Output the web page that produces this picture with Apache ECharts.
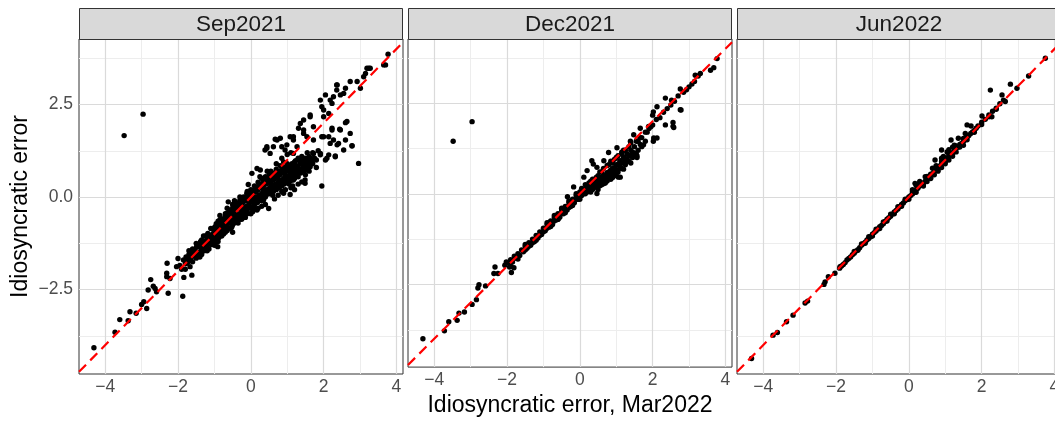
<!DOCTYPE html>
<html>
<head>
<meta charset="utf-8">
<script src="https://cdn.jsdelivr.net/npm/echarts@6/dist/echarts.min.js"></script>
<style>
  html, body { margin: 0; padding: 0; overflow: hidden; background: #fff; width: 1055px; height: 422px; }
  #chart { width: 1066px; height: 422px; }
</style>
</head>
<body>
<div id="chart"></div>
<script>
// Facet labels (one panel per vintage)
const PANELS = ['Sep2021', 'Dec2021', 'Jun2022'];

// Axis ticks (major and minor) and the visible axis ranges
const X_TICKS = [-4, -2, 0, 2, 4];
const X_MINOR = [-3, -1, 1, 3];
const Y_TICKS = [-2.5, 0, 2.5];
const Y_MINOR = [-3.75, -1.25, 1.25, 3.75];
const X_RANGE = [-4.72, 4.18];
const Y_RANGE = [-4.78, 4.27];

// Idiosyncratic error: [Mar2022 value, vintage value]
const SEP2021 = [
  [-3.48, 1.66], [-2.96, 2.24],
  [-4.31, -4.07], [-3.73, -3.65], [-3.60, -3.31], [-3.37, -3.34], [-3.32, -3.10], [-3.15, -3.14],
  [-3.00, -2.90], [-2.94, -2.83], [-2.86, -3.01], [-2.82, -2.51], [-2.75, -2.23], [-2.68, -2.41],
  [-2.63, -2.47], [-2.59, -2.56], [-2.31, -2.06], [-2.30, -1.79], [-2.31, -2.15], [-2.27, -2.60],
  [-2.22, -2.20], [-2.04, -1.88], [-2.00, -1.66], [-1.87, -2.68], [-1.84, -2.17], [-1.76, -1.79],
  [-1.72, -1.66], [-1.62, -2.11], [-1.67, -1.88], [-1.58, -1.52], [-1.49, -1.34], [-1.40, -1.52],
  [-1.35, -1.16], [-1.26, -1.30], [-1.17, -1.39], [-1.12, -1.07], [-1.03, -0.98], [-0.91, -1.34],
  [-0.98, -0.80], [-0.85, -0.62], [-0.80, -0.89], [-0.66, -0.44], [-0.62, -0.13], [-0.48, -0.26],
  [-0.43, -0.53], [-0.29, -0.08], [-0.20, -0.44], [-0.07, 0.34], [-0.11, 0.10], [0.07, 0.01],
  [0.17, -0.35], [0.35, -0.08], [0.49, -0.31], [0.44, 0.19], [0.53, 0.37], [0.62, 0.46],
  [0.72, 0.28], [0.81, 0.64], [0.90, 0.73], [0.94, 0.41], [1.08, 0.07], [1.17, 0.46],
  [1.27, 0.82], [1.40, 0.41], [1.49, 0.37], [1.45, 1.00], [1.59, 0.82], [1.68, 0.95],
  [1.95, 0.30], [1.72, 1.18], [1.91, 1.14], [2.05, 1.00], [2.14, 1.14], [2.32, 1.11],
  [2.55, 1.27], [2.78, 1.39], [2.96, 0.91], [2.73, 1.72], [2.60, 2.01], [2.44, 1.83],
  [2.23, 1.86], [2.18, 1.45], [1.95, 1.63], [2.14, 1.63], [2.41, 1.45], [2.27, 1.54],
  [2.00, 2.17], [2.14, 2.26], [1.91, 2.62], [2.05, 2.76], [2.18, 2.62], [2.27, 2.71],
  [2.36, 2.89], [2.46, 2.76], [2.55, 2.80], [2.36, 3.03], [2.60, 2.94], [2.73, 3.12],
  [2.92, 3.12], [3.01, 2.94], [3.10, 3.25], [3.19, 3.48], [3.28, 3.48], [3.65, 3.57],
  [3.77, 3.86], [1.95, 2.44], [1.63, 2.17], [1.45, 2.08], [1.31, 1.86], [1.45, 1.72],
  [1.54, 1.63], [1.72, 1.54], [1.08, 1.63], [1.17, 1.54], [1.27, 1.36], [0.99, 1.41],
  [0.85, 1.36], [0.72, 1.54], [0.81, 1.59], [0.62, 1.36], [0.44, 1.36], [0.39, 1.27],
  [0.53, 1.18], [0.17, 0.77], [0.26, 0.73], [0.03, 0.64],
  [0.44, 1.32], [0.67, 1.56], [0.94, 1.27], [1.17, 1.63], [1.36, 1.99], [1.45, 1.81],
  [1.63, 2.22], [1.72, 1.90], [2.00, 2.35], [2.23, 2.53], [2.37, 3.03], [3.15, 3.34],
  [3.24, 3.48], [3.70, 3.57], [2.64, 2.04], [2.46, 1.81], [2.78, 1.38], [2.60, 1.54],
  [2.37, 1.41], [2.00, 1.63], [2.23, 1.81], [2.32, 1.09], [2.09, 1.05], [1.91, 1.18],
  [1.49, 0.46], [1.63, 0.82], [1.36, 1.00], [1.17, 1.18],
  [-1.95, -1.85], [-1.90, -1.95], [-1.85, -1.70], [-1.80, -1.80], [-1.78, -1.62], [-1.72, -1.75],
  [-1.70, -1.55], [-1.65, -1.68], [-1.62, -1.50], [-1.60, -1.60], [-1.55, -1.42], [-1.52, -1.58],
  [-1.50, -1.48], [-1.45, -1.35], [-1.42, -1.50], [-1.40, -1.30], [-1.35, -1.42], [-1.32, -1.25],
  [-1.30, -1.38], [-1.25, -1.20], [-1.22, -1.32], [-1.20, -1.10], [-1.15, -1.25], [-1.12, -1.05],
  [-1.10, -1.18], [-1.05, -1.00], [-1.02, -1.12], [-1.00, -0.92], [-0.98, -1.05], [-0.95, -0.85],
  [-0.92, -0.98], [-0.90, -0.78], [-0.88, -1.10], [-0.85, -0.90], [-0.82, -0.72], [-0.80, -0.85],
  [-0.78, -0.98], [-0.75, -0.68], [-0.72, -0.80], [-0.70, -0.60], [-0.68, -0.75], [-0.65, -0.90],
  [-0.62, -0.55], [-0.60, -0.68], [-0.58, -0.48], [-0.55, -0.62], [-0.52, -0.80], [-0.50, -0.42],
  [-0.48, -0.55], [-0.45, -0.70], [-0.42, -0.35], [-0.40, -0.50], [-0.38, -0.62], [-0.35, -0.30],
  [-0.32, -0.45], [-0.30, -0.20], [-0.28, -0.55], [-0.25, -0.35], [-0.22, -0.15], [-0.20, -0.28],
  [-0.18, -0.48], [-0.15, -0.10], [-0.12, -0.25], [-0.10, -0.38], [-0.08, -0.05], [-0.05, -0.18],
  [-0.02, 0.05], [0.00, -0.12], [0.02, -0.30], [0.05, 0.08], [0.08, -0.05], [0.10, -0.20],
  [0.12, 0.15], [0.15, 0.00], [0.18, -0.15], [0.20, 0.20], [0.22, 0.05], [0.25, -0.08],
  [0.28, 0.25], [0.30, 0.10], [0.32, -0.02], [0.35, 0.30], [0.38, 0.15], [0.40, 0.00],
  [0.42, 0.35], [0.45, 0.20], [0.48, 0.08], [0.50, 0.40], [0.52, 0.25], [0.55, 0.12],
  [0.58, 0.45], [0.60, 0.30], [0.62, 0.15], [0.65, 0.50], [0.68, 0.35], [0.70, 0.20],
  [0.72, 0.55], [0.75, 0.40], [0.78, 0.25], [0.80, 0.60], [0.82, 0.45], [0.85, 0.30],
  [0.88, 0.65], [0.90, 0.50], [0.92, 0.35], [0.95, 0.70], [0.98, 0.55], [1.00, 0.40],
  [1.05, 0.75], [1.08, 0.60], [1.10, 0.45], [1.15, 0.80], [1.18, 0.65], [1.20, 0.50],
  [1.25, 0.85], [1.28, 0.70], [1.30, 0.55], [1.35, 0.90], [1.40, 0.75], [1.45, 0.95],
  [1.50, 0.80], [1.55, 1.00], [1.60, 0.85], [1.65, 1.05], [1.70, 0.90], [1.80, 1.00],
  [1.00, 0.70], [1.00, 0.90], [1.05, 0.35], [1.10, 0.85], [1.20, 0.95], [1.25, 0.60],
  [1.30, 1.05], [1.35, 0.70], [1.40, 1.10], [1.50, 0.60], [1.55, 1.20], [1.60, 0.70],
  [1.70, 1.20], [1.75, 1.05], [1.80, 0.80], [1.85, 1.25], [0.90, 0.95], [0.80, 0.85],
  [0.70, 0.75], [0.60, 0.65], [0.50, 0.60], [0.95, 0.20], [0.85, 0.15], [0.75, 0.05],
  [0.60, 0.05], [1.15, 0.30], [1.30, 0.35], [0.20, 0.40], [0.10, 0.30], [-0.10, 0.15],
  [-0.30, 0.00], [-0.50, -0.20], [-0.70, -0.45], [-0.90, -0.65], [-1.10, -0.85], [-1.30, -1.05],
  [-1.50, -1.25], [-1.70, -1.45], [-0.95, -1.20], [-0.75, -1.00], [-0.55, -0.85], [-0.35, -0.70],
  [-0.15, -0.55], [0.05, -0.40], [0.30, -0.25], [1.20, 0.20],
  [-1.45, -1.55], [-1.38, -1.20], [-1.28, -1.45], [-1.18, -0.98], [-1.08, -1.28], [-0.98, -0.90],
  [-0.93, -1.15], [-0.87, -0.70], [-0.83, -1.00], [-0.77, -0.60], [-0.73, -0.92], [-0.67, -0.55],
  [-0.63, -0.82], [-0.57, -0.38], [-0.53, -0.72], [-0.47, -0.35], [-0.43, -0.62], [-0.37, -0.25],
  [-0.33, -0.52], [-0.27, -0.12], [-0.23, -0.42], [-0.17, -0.05], [-0.13, -0.32], [-0.07, 0.02],
  [-0.03, -0.25], [0.03, 0.12], [0.07, -0.15], [0.13, 0.22], [0.17, -0.05], [0.23, 0.30],
  [0.27, 0.00], [0.33, 0.38], [0.37, 0.05], [0.43, 0.45], [0.47, 0.12], [0.53, 0.52],
  [0.57, 0.20], [0.63, 0.58], [0.67, 0.25], [0.73, 0.65], [0.77, 0.32], [0.83, 0.72],
  [0.87, 0.38], [0.93, 0.80], [0.97, 0.45], [1.03, 0.85], [1.07, 0.50], [1.13, 0.90],
  [1.17, 0.55], [1.23, 0.98], [1.27, 0.62], [1.33, 1.00], [1.37, 0.65], [1.43, 0.85],
  [1.47, 0.70], [1.53, 0.90], [1.57, 0.75], [1.63, 0.95], [0.00, 0.20], [0.10, 0.00],
  [-0.20, -0.05], [-0.40, -0.15], [-0.60, -0.35], [-0.80, -0.60], [0.30, 0.50], [0.40, 0.55],
  [0.55, 0.70], [0.70, 0.90], [0.85, 1.05], [1.00, 1.15], [1.10, 1.20], [0.20, -0.30],
  [0.40, -0.20], [0.65, -0.05], [0.90, 0.10], [1.10, 0.25], [-1.00, -1.30], [-1.20, -1.45],
  [-1.40, -1.62], [-1.60, -1.75], [-1.80, -1.95], [-0.50, -0.95], [-0.25, -0.60], [0.00, -0.45],
  [-1.60, -1.40], [-1.50, -1.65], [-1.35, -1.55], [-1.25, -1.05], [-1.15, -1.40], [-1.05, -0.85],
  [-1.00, -1.20], [-0.95, -0.72], [-0.90, -1.20], [-0.85, -0.78], [-0.80, -1.05], [-0.70, -0.52],
  [-0.70, -0.95], [-0.60, -0.42], [-0.60, -0.85], [-0.50, -0.30], [-0.50, -0.75], [-0.40, -0.25],
  [-0.40, -0.65], [-0.30, -0.10], [-0.30, -0.60], [-0.20, 0.00], [-0.20, -0.50], [-0.10, 0.05],
  [-0.10, -0.45], [0.00, 0.10], [0.00, -0.30], [0.10, 0.18], [0.10, -0.30], [0.20, 0.28],
  [0.20, -0.10], [0.30, 0.35], [0.30, -0.10], [0.40, 0.45], [0.40, 0.10], [0.50, 0.50],
  [0.50, 0.15], [0.60, 0.55], [0.60, 0.20], [0.70, 0.62], [0.70, 0.30], [0.80, 0.70],
  [0.80, 0.35], [0.90, 0.78], [0.90, 0.40], [1.00, 0.82], [1.00, 0.50], [1.10, 0.62],
  [1.20, 0.72], [1.30, 0.80], [1.40, 0.90], [1.50, 1.05], [1.60, 1.10], [-0.65, -0.70],
  [-0.45, -0.45], [-0.25, -0.25], [-0.05, -0.05], [0.15, 0.15], [0.35, 0.20], [0.55, 0.35],
  [0.75, 0.50], [0.95, 0.60], [1.15, 0.70], [-0.85, -0.50], [-0.65, -0.30], [-0.45, -0.10],
  [0.25, 0.55], [0.45, 0.70]
];

const DEC2021 = [
  [-3.48, 1.45], [-2.96, 1.99],
  [-4.31, -4.00], [-3.72, -3.78], [-3.60, -3.53], [-3.37, -3.49], [-3.32, -3.29], [-3.17, -3.26],
  [-2.96, -3.05], [-2.84, -2.92], [-2.77, -2.51], [-2.80, -2.60], [-2.59, -2.54], [-2.33, -2.02],
  [-2.36, -2.20], [-2.25, -2.20], [-2.06, -1.97], [-2.02, -1.88], [-1.93, -2.02], [-1.88, -2.17],
  [-1.81, -2.04],
  [3.77, 3.73], [3.68, 3.48], [3.59, 3.41], [3.31, 3.32], [3.17, 3.27], [3.08, 3.03],
  [2.93, 2.87], [2.76, 2.89], [2.78, 2.31], [2.56, 1.97], [2.56, 1.86], [2.35, 1.90],
  [2.12, 1.54], [2.02, 1.45], [2.52, 2.58], [2.35, 2.64], [2.12, 2.40], [2.02, 2.26],
  [2.00, 2.17], [1.89, 1.86], [1.66, 1.81], [1.48, 1.63], [1.39, 1.45], [1.66, 1.36],
  [1.57, 1.00], [1.30, 1.09], [1.11, 0.91], [1.02, 1.27], [0.79, 1.14], [0.66, 0.91],
  [0.33, 0.91], [0.47, 0.73], [0.84, 0.64], [1.06, 0.46], [0.52, 0.28], [0.47, 0.01],
  [0.11, 0.46], [0.20, 0.64], [-0.17, 0.19], [-0.34, -0.08],
  [0.37, 0.82], [1.11, 0.46], [1.57, 1.05], [2.03, 1.54], [2.58, 1.83], [2.76, 2.32],
  [-1.95, -1.90], [-1.90, -1.82], [-1.85, -1.88], [-1.80, -1.72], [-1.75, -1.78], [-1.70, -1.65],
  [-1.65, -1.70], [-1.60, -1.55], [-1.55, -1.60], [-1.50, -1.45], [-1.45, -1.50], [-1.40, -1.35],
  [-1.35, -1.42], [-1.30, -1.25], [-1.25, -1.32], [-1.20, -1.15], [-1.15, -1.22], [-1.10, -1.05],
  [-1.05, -1.12], [-1.00, -0.95], [-0.95, -1.02], [-0.90, -0.85], [-0.85, -0.92], [-0.80, -0.75],
  [-0.75, -0.85], [-0.70, -0.65], [-0.65, -0.72], [-0.60, -0.55], [-0.55, -0.65], [-0.50, -0.45],
  [-0.45, -0.55], [-0.40, -0.35], [-0.35, -0.45], [-0.30, -0.25], [-0.25, -0.35], [-0.20, -0.15],
  [-0.15, -0.25], [-0.10, -0.05], [-0.05, -0.15], [0.00, 0.05], [0.05, -0.05], [0.10, 0.12],
  [0.15, 0.00], [0.20, 0.18], [0.25, 0.08], [0.30, 0.25], [0.35, 0.12], [0.40, 0.30],
  [0.45, 0.18], [0.50, 0.35], [0.55, 0.22], [0.60, 0.45], [0.65, 0.28], [0.70, 0.50],
  [0.75, 0.35], [0.80, 0.60], [0.85, 0.40], [0.90, 0.70], [0.95, 0.50], [1.00, 0.80],
  [1.05, 0.60], [1.10, 0.90], [1.15, 0.70], [1.20, 1.00], [1.25, 0.80], [1.30, 1.10],
  [1.35, 0.90], [1.40, 1.20], [1.45, 1.00], [1.50, 1.30], [1.55, 1.10], [1.60, 1.45],
  [1.70, 1.55], [1.75, 1.35], [1.80, 1.70], [1.90, 1.80], [2.00, 1.90], [2.10, 2.05],
  [2.20, 2.10], [2.30, 2.25], [2.40, 2.35], [2.50, 2.45], [2.60, 2.55], [2.70, 2.70],
  [2.85, 2.80], [3.00, 2.95], [3.15, 3.10], [3.25, 3.25],
  [0.60, 0.60], [0.70, 0.40], [0.80, 0.80], [0.90, 0.55], [1.00, 1.00], [1.10, 0.75],
  [1.20, 1.20], [1.30, 0.95], [1.40, 1.40], [0.50, 0.50], [0.40, 0.20], [0.30, 0.35],
  [0.20, 0.05], [-0.60, -0.70], [-1.20, -1.28], [-0.30, -0.38], [0.90, 0.85], [1.15, 1.10],
  [-1.00, -1.05], [-0.90, -0.95], [-0.80, -0.85], [-0.70, -0.75], [-0.60, -0.65], [-0.50, -0.55],
  [-0.40, -0.48], [-0.30, -0.35], [-0.20, -0.28], [-0.10, -0.15], [0.00, -0.08], [0.10, 0.00],
  [0.20, 0.08], [0.30, 0.12], [0.40, 0.20], [0.50, 0.25], [0.60, 0.35], [0.70, 0.42],
  [0.80, 0.50], [0.90, 0.58], [1.00, 0.65], [1.10, 0.72], [1.20, 0.85], [1.30, 0.90],
  [1.40, 1.05], [1.50, 1.12], [0.25, 0.30], [0.45, 0.45], [0.65, 0.70], [0.85, 0.90],
  [1.05, 1.05], [1.25, 1.20], [0.35, 0.40], [0.55, 0.60], [0.75, 0.78], [0.95, 0.95],
  [1.15, 1.15], [1.35, 1.30], [1.55, 1.45], [1.65, 1.55], [1.85, 1.70], [1.95, 1.85],
  [-1.50, -1.55], [-1.30, -1.35], [-1.10, -1.15], [-1.40, -1.45], [-0.85, -0.80], [-0.65, -0.60],
  [0.05, 0.15], [0.15, 0.25], [0.25, 0.18], [0.35, 0.28], [0.45, 0.32], [0.55, 0.45],
  [0.65, 0.52], [0.75, 0.58], [0.85, 0.65], [0.95, 0.72], [1.05, 0.80], [1.15, 0.85],
  [1.25, 0.95], [1.35, 1.05], [1.45, 1.15], [0.60, 0.25], [0.80, 0.42], [1.00, 0.55],
  [1.20, 0.68], [1.40, 0.85], [1.60, 1.20], [1.70, 1.30], [1.80, 1.45], [0.30, 0.05],
  [0.50, 0.12], [0.70, 0.30], [0.90, 0.45], [-0.80, -0.90], [-0.60, -0.70], [-0.40, -0.52],
  [-0.20, -0.32], [0.00, -0.15], [-0.90, -0.80], [-0.70, -0.60], [-0.50, -0.40], [-0.30, -0.20],
  [-0.10, 0.00], [-1.70, -1.80], [-1.50, -1.40], [-1.90, -2.00]
];

const JUN2022 = [
  [-4.32, -4.36], [-3.73, -3.73], [-3.61, -3.66], [-3.36, -3.37], [-3.18, -3.19], [-2.85, -2.86],
  [-2.78, -2.81], [-2.33, -2.36], [-2.30, -2.29], [-2.21, -2.15], [-2.03, -2.06], [-1.89, -1.88],
  [2.24, 2.89], [2.79, 3.05], [2.56, 2.76], [2.01, 2.19], [1.60, 1.95], [1.71, 1.92],
  [1.16, 1.54], [1.05, 1.22], [3.75, 3.75], [3.29, 3.27], [2.97, 2.94], [2.65, 2.58],
  [2.28, 2.17], [1.55, 1.72], [1.36, 1.59], [0.90, 1.27], [0.72, 1.00], [0.17, 0.37],
  [1.36, 1.36],
  [-1.90, -1.92], [-1.80, -1.82], [-1.70, -1.70], [-1.60, -1.62], [-1.50, -1.52], [-1.40, -1.42],
  [-1.30, -1.30], [-1.20, -1.22], [-1.10, -1.12], [-1.00, -1.00], [-0.90, -0.92], [-0.80, -0.80],
  [-0.70, -0.72], [-0.60, -0.60], [-0.50, -0.52], [-0.40, -0.40], [-0.30, -0.32], [-0.20, -0.20],
  [-0.10, -0.10], [0.00, 0.00], [0.10, 0.08], [0.20, 0.20], [0.30, 0.30], [0.40, 0.38],
  [0.50, 0.50], [0.60, 0.62], [0.70, 0.70], [0.80, 0.82], [0.90, 0.90], [1.00, 1.02],
  [1.10, 1.12], [1.20, 1.20], [1.30, 1.33], [1.40, 1.42], [1.50, 1.50], [1.60, 1.62],
  [1.70, 1.72], [1.80, 1.80], [1.90, 1.92], [2.00, 2.02], [2.10, 2.10], [2.20, 2.22],
  [2.30, 2.32], [2.40, 2.40], [2.50, 2.52], [2.60, 2.62],
  [-1.85, -1.86], [-1.75, -1.77], [-1.65, -1.66], [-1.55, -1.56], [-1.45, -1.46], [-1.35, -1.37],
  [-1.25, -1.26], [-1.15, -1.16], [-1.05, -1.07], [-0.95, -0.96], [-0.85, -0.86], [-0.75, -0.77],
  [-0.65, -0.66], [-0.55, -0.56], [-0.45, -0.46], [-0.35, -0.36], [-0.25, -0.26], [-0.15, -0.16],
  [-0.05, -0.06], [0.05, 0.04], [0.15, 0.13], [0.25, 0.24], [0.35, 0.33], [0.45, 0.43],
  [0.55, 0.54], [0.65, 0.63], [0.75, 0.74], [0.85, 0.84], [0.95, 0.94], [1.05, 1.05],
  [1.15, 1.14], [1.25, 1.25], [1.35, 1.35], [1.45, 1.45], [1.55, 1.55], [1.65, 1.66],
  [1.75, 1.76], [1.85, 1.86],
  [0.40, 0.30], [0.60, 0.50], [0.80, 0.70], [1.00, 0.90], [1.20, 1.10], [0.50, 0.42],
  [0.70, 0.60], [0.90, 0.80], [1.10, 1.00], [1.30, 1.22], [1.50, 1.40], [0.30, 0.42],
  [0.90, 1.05], [1.10, 1.28], [1.20, 1.35], [0.95, 1.10], [0.20, 0.32], [0.65, 0.78],
  [-1.50, -1.47], [-1.30, -1.27], [-1.10, -1.07], [-0.90, -0.87], [-0.70, -0.67], [-0.50, -0.46],
  [-0.30, -0.26], [-0.10, -0.06], [0.10, 0.14], [0.30, 0.35], [0.50, 0.56], [0.70, 0.77],
  [0.90, 0.97], [1.10, 1.18], [1.30, 1.38], [1.50, 1.58], [-1.40, -1.44], [-1.20, -1.25],
  [-1.00, -1.05], [-0.80, -0.85], [-0.60, -0.65], [-0.40, -0.45], [-0.20, -0.25], [0.00, -0.06],
  [0.20, 0.13], [0.40, 0.33], [0.60, 0.53], [0.80, 0.73], [1.00, 0.95], [1.20, 1.15],
  [1.40, 1.35], [1.60, 1.55], [1.80, 1.75], [2.00, 1.96], [2.20, 2.17], [2.40, 2.37],
  [0.10, 0.20], [0.25, 0.35], [0.45, 0.55], [0.75, 0.85], [1.25, 1.40]
];

const SERIES_DATA = [SEP2021, DEC2021, JUN2022];

// Panel layout (pixels)
const PANEL_LEFT = [79, 408, 737];
const PANEL_TOP = 39;
const PANEL_W = 324;
const PANEL_H = 335;
const STRIP_TOP = 8;

const FONT = '"Liberation Sans", Arial, Helvetica, sans-serif';
const minus = s => String(s).replace('-', '\u2212');

const chart = echarts.init(document.getElementById('chart'), null, { renderer: 'canvas' });

const grids = [], xAxes = [], yAxes = [], series = [], graphics = [];

PANELS.forEach((name, i) => {
  grids.push({
    left: PANEL_LEFT[i], top: PANEL_TOP, width: PANEL_W, height: PANEL_H,
    show: true, backgroundColor: '#FFFFFF', borderColor: '#333333', borderWidth: 1,
    containLabel: false
  });

  xAxes.push({
    type: 'value', gridIndex: i, min: X_RANGE[0], max: X_RANGE[1],
    axisLine: { show: false },
    axisTick: { show: true, customValues: X_TICKS, length: 3, lineStyle: { color: '#333333', width: 1 } },
    axisLabel: { show: true, customValues: X_TICKS, formatter: v => minus(v),
                 color: '#4D4D4D', fontSize: 17.5, fontFamily: FONT, margin: 4 },
    splitLine: { show: false },
    name: i === 1 ? 'Idiosyncratic error, Mar2022' : '',
    nameLocation: 'middle', nameGap: 21,
    nameTextStyle: { color: '#000000', fontSize: 23, fontFamily: FONT }
  });

  yAxes.push({
    type: 'value', gridIndex: i, min: Y_RANGE[0], max: Y_RANGE[1],
    show: i === 0,
    axisLine: { show: false },
    axisTick: { show: i === 0, customValues: Y_TICKS, length: 3, lineStyle: { color: '#333333', width: 1 } },
    axisLabel: { show: i === 0, customValues: Y_TICKS, formatter: v => minus(v.toFixed(1)),
                 color: '#4D4D4D', fontSize: 17.5, fontFamily: FONT, margin: 6 },
    splitLine: { show: false },
    name: i === 0 ? 'Idiosyncratic error' : '',
    nameLocation: 'middle', nameGap: 47, nameRotate: 90,
    nameTextStyle: { color: '#000000', fontSize: 23, fontFamily: FONT }
  });

  // Background grid lines (minor first, then major), kept beneath the points
  const gl = [];
  X_MINOR.forEach(v => gl.push({ xAxis: v, lineStyle: { color: '#EDEDED', width: 1, type: 'solid' } }));
  Y_MINOR.forEach(v => gl.push({ yAxis: v, lineStyle: { color: '#EDEDED', width: 1, type: 'solid' } }));
  X_TICKS.forEach(v => gl.push({ xAxis: v, lineStyle: { color: '#DADADA', width: 1.2, type: 'solid' } }));
  Y_TICKS.forEach(v => gl.push({ yAxis: v, lineStyle: { color: '#DADADA', width: 1.2, type: 'solid' } }));
  series.push({
    type: 'line', xAxisIndex: i, yAxisIndex: i, data: [], silent: true, z: 1,
    markLine: { silent: true, z: 1, symbol: ['none', 'none'], label: { show: false },
                animation: false, data: gl }
  });

  // Points
  series.push({
    type: 'scatter', xAxisIndex: i, yAxisIndex: i, data: SERIES_DATA[i],
    symbol: 'circle', symbolSize: 5.4, silent: true, z: 5,
    itemStyle: { color: '#000000', opacity: 1, borderWidth: 0 }
  });

  // 45-degree reference line across the panel
  series.push({
    type: 'line', xAxisIndex: i, yAxisIndex: i,
    data: [[X_RANGE[0], X_RANGE[0]], [X_RANGE[1], X_RANGE[1]]],
    symbol: 'none', silent: true, z: 6,
    lineStyle: { color: '#FF0000', width: 2.2, type: [10, 6] }
  });

  // Facet strip
  graphics.push({
    type: 'rect', z: 10,
    shape: { x: PANEL_LEFT[i] + 0.5, y: STRIP_TOP + 0.5, width: PANEL_W - 1, height: PANEL_TOP - STRIP_TOP },
    style: { fill: '#D9D9D9', stroke: '#333333', lineWidth: 1 }
  });
  graphics.push({
    type: 'text', z: 11,
    style: { text: name, x: PANEL_LEFT[i] + PANEL_W / 2, y: (STRIP_TOP + PANEL_TOP) / 2 + 1,
             align: 'center', verticalAlign: 'middle',
             font: '22.5px ' + FONT, fill: '#1A1A1A' }
  });
});

chart.setOption({
  animation: false,
  backgroundColor: '#FFFFFF',
  textStyle: { fontFamily: FONT },
  grid: grids,
  xAxis: xAxes,
  yAxis: yAxes,
  series: series,
  graphic: graphics
});
</script>
</body>
</html>
